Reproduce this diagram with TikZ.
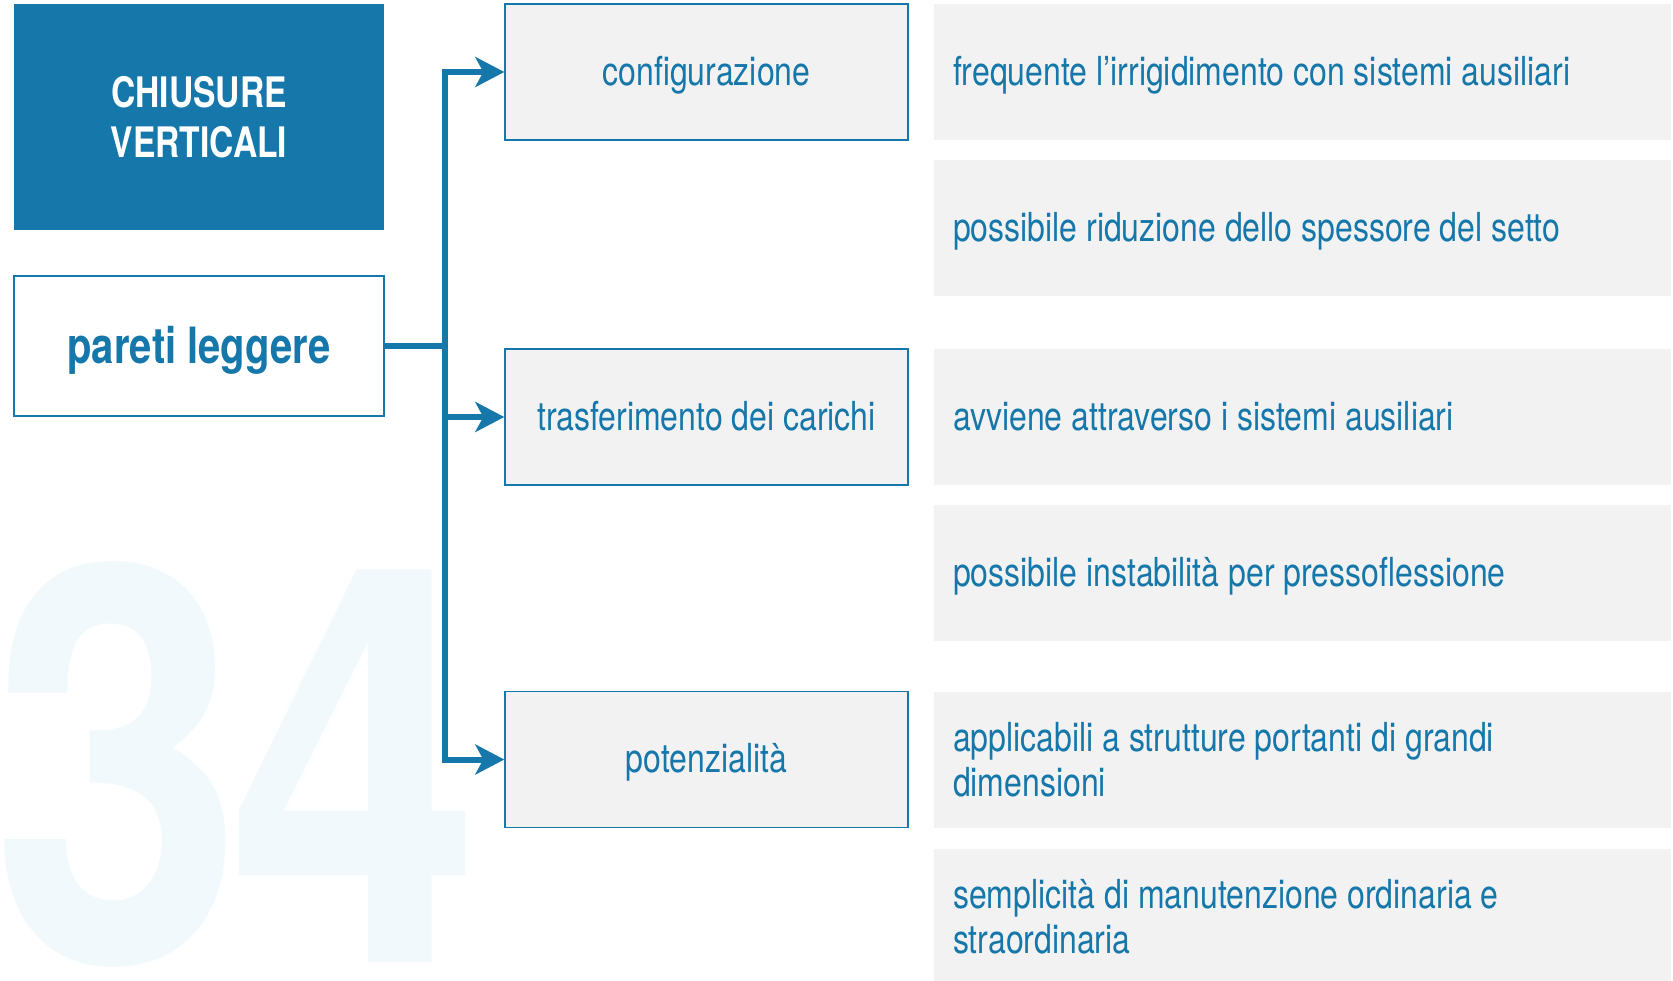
\documentclass[tikz,border=0pt]{standalone}
\usepackage{fontspec}
\setmainfont{TeX Gyre Heros}[FakeStretch=0.8]
\newfontfamily\wmfont{TeX Gyre Heros}[FakeStretch=0.82]
\usetikzlibrary{arrows.meta}
\definecolor{cblue}{HTML}{1577AA}
\definecolor{cgray}{HTML}{F2F2F2}
\definecolor{cwater}{HTML}{F2F9FD}
\begin{document}
\begin{tikzpicture}[x=0.5pt,y=-0.5pt,
  headbox/.style={fill=cblue, text=white, font=\fontsize{21}{25}\selectfont\bfseries, align=center, minimum width=185pt, minimum height=113pt, inner sep=0pt},
  mainbox/.style={draw=cblue, line width=0.7pt, fill=white, text=cblue, font=\fontsize{25}{30}\selectfont\bfseries, minimum width=185pt, minimum height=70pt, inner sep=0pt, text height=19pt, text depth=2pt},
  midbox/.style={draw=cblue, line width=0.7pt, fill=cgray, text=cblue, font=\fontsize{20}{24}\selectfont, minimum width=201.5pt, minimum height=68pt, inner sep=0pt, text height=15pt, text depth=2pt},
  infobox/.style={fill=cgray, text=cblue, font=\fontsize{20}{22.5}\selectfont, text width=349.5pt, inner xsep=9.5pt, inner ysep=0pt, minimum height=68pt, align=flush left},
  oneline/.style={text height=15pt, text depth=2pt},
  conn/.style={draw=cblue, line width=3pt},
  arr/.style={conn, -{Stealth[length=14.5pt, width=15pt, inset=4pt]}}
]
\useasboundingbox (0,0) rectangle (1673,980);
\clip (0,0) rectangle (1673,980);
\fill[white] (0,0) rectangle (1673,980);
% watermark
\node[anchor=base west, text=cwater, font=\wmfont\fontsize{277}{277}\selectfont\bfseries, inner sep=0pt] (num) at (-9,962) {3\kern-7.5pt4};
% left
\node[headbox] (head) at (199,117) {CHIUSURE\\VERTICALI};
\node[mainbox] (pareti) at (199,346) {pareti leggere};
% middle
\node[midbox] (config) at (706.5,72) {configurazione};
\node[midbox] (trasf) at (706.5,417) {trasferimento dei carichi};
\node[midbox] (potenz) at (706.5,759.5) {potenzialità};
% right
\node[infobox, oneline] (i1) at (1302.5,72) {frequente l’irrigidimento con sistemi ausiliari};
\node[infobox, oneline] (i2) at (1302.5,228) {possibile riduzione dello spessore del setto};
\node[infobox, oneline] (i3) at (1302.5,417) {avviene attraverso i sistemi ausiliari};
\node[infobox, oneline] (i4) at (1302.5,573) {possibile instabilità per pressoflessione};
\node[infobox] (i5) at (1302.5,759.5) {applicabili a strutture portanti di grandi\\dimensioni};
\node[infobox] (i6) at (1302.5,917) {semplicità di manutenzione ordinaria e\\straordinaria};
% connectors
\coordinate (tr) at (444.5,346);
\draw[conn] (pareti.east) -- (tr);
\draw[arr] (tr) |- (config.west);
\draw[arr] (tr) |- (trasf.west);
\draw[arr] (tr) |- (potenz.west);
\end{tikzpicture}
\end{document}
